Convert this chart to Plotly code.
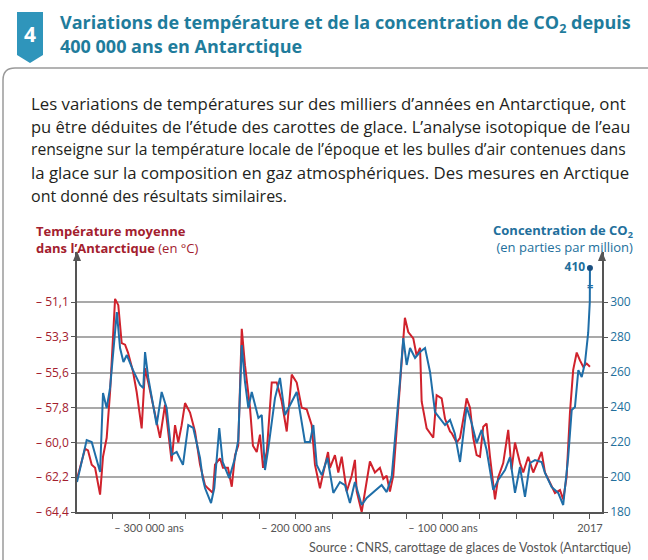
import plotly.graph_objects as go

# ---------------- data ----------------
temp_years = [-349000, -343500, -341500, -339000, -336700, -333300, -331300, -328800, -326500, -323100,
              -320900, -318600, -316300, -314300, -310900, -308400, -305000, -302700, -300500, -298200,
              -294800, -292500, -289100, -286900, -284600, -282300, -280100, -277800, -275500, -272100,
              -268700, -265300, -261900, -259900, -256500, -255100, -251700, -249700, -246300, -243700,
              -241500, -239300, -236900, -234700, -231300, -229300, -226700, -224500, -222400, -219900,
              -216500, -213100, -209700, -206300, -202900, -199500, -196100, -192700, -189300, -187100,
              -183700, -181400, -178200, -176900, -173500, -171200, -168900, -165500, -162100, -159900,
              -158700, -155300, -151900, -149700, -146300, -142900, -140600, -138300, -136100, -133800,
              -129300, -125900, -123600, -120200, -117900, -115600, -114500, -111100, -106600, -104300,
              -100900, -98600, -95200, -94100, -90700, -88400, -85000, -83900, -81600, -79400,
              -77100, -74800, -72600, -70300, -68000, -64600, -62400, -59000, -55600, -53300,
              -51000, -47600, -45400, -42000, -38600, -32900, -30600, -27200, -23800, -20400,
              -18200, -15900, -13600, -11400, -9000, -6800, -4600, -2200, 0]
temperature = [-62.3, -60.4, -60.5, -61.4, -61.6, -63.3, -60.9, -59.7, -56.8, -50.9,
               -51.3, -53.7, -53.8, -54.3, -55.5, -56.8, -59.1, -55.3, -56.2, -57.2,
               -58.9, -59.7, -57.6, -59.3, -61.2, -58.9, -60.0, -58.9, -57.5, -58.1,
               -59.3, -61.4, -62.7, -62.9, -63.2, -61.4, -61.0, -61.6, -61.6, -62.8,
               -60.8, -60.2, -52.8, -55.1, -57.8, -60.2, -60.6, -59.5, -61.6, -60.6,
               -56.2, -56.2, -57.4, -59.3, -55.7, -56.2, -57.8, -57.9, -58.9, -61.4,
               -62.9, -61.9, -60.6, -61.6, -60.8, -61.9, -60.9, -63.1, -62.1, -61.1,
               -63.1, -64.4, -62.3, -61.2, -61.9, -61.6, -62.3, -62.1, -63.1, -62.1,
               -56.4, -52.1, -53.0, -53.4, -54.5, -54.0, -57.4, -59.1, -59.7, -57.0,
               -57.2, -58.5, -59.3, -59.4, -60.0, -59.7, -57.9, -57.2, -57.8, -59.7,
               -60.8, -60.9, -59.0, -58.8, -60.9, -63.6, -62.2, -61.3, -59.2, -61.7,
               -60.0, -61.3, -61.9, -60.9, -61.9, -60.6, -61.9, -62.6, -63.2, -63.0,
               -63.6, -62.2, -58.1, -55.4, -54.3, -54.8, -55.2, -55.0, -55.2]

co2_years = [-349000, -342400, -339000, -335600, -333300, -331300, -328800, -326500, -321900, -319700,
             -317400, -315100, -310900, -306100, -303900, -302700, -300500, -294800, -291400, -288000,
             -284600, -281200, -276900, -273300, -269900, -265300, -263500, -261900, -257800, -255600,
             -252200, -249900, -245400, -241500, -239300, -236900, -234700, -232400, -230100, -225600,
             -223300, -221100, -218800, -214300, -210900, -207500, -202900, -199500, -193900, -190500,
             -188200, -185900, -182500, -178600, -174600, -170100, -166700, -163300, -159900, -155300,
             -151900, -147400, -141700, -138300, -134900, -129300, -127000, -124700, -122400, -119000,
             -115600, -112200, -108800, -105400, -102000, -98600, -95200, -92000, -88400, -83900,
             -80500, -77100, -73700, -70300, -65800, -62400, -57800, -54400, -51000, -47600,
             -44200, -40800, -37400, -32900, -30600, -26100, -21600, -18200, -14800, -12400,
             -10200, -7900, -5600, -3400, -1200, -100, 0]
co2 = [197.1, 221.1, 220.0, 209.7, 202.9, 248.0, 239.4, 250.9, 294.3, 273.7,
       265.7, 269.7, 261.1, 252.6, 250.9, 271.4, 256.6, 229.7, 248.6, 239.4,
       212.6, 214.3, 206.9, 229.7, 228.0, 210.9, 199.4, 193.7, 185.1, 193.7,
       228.0, 208.6, 199.4, 210.9, 221.1, 275.4, 254.3, 239.4, 248.6, 233.7,
       235.4, 204.0, 216.6, 245.1, 256.6, 235.4, 242.9, 248.6, 220.0, 220.0,
       229.7, 206.9, 201.1, 210.9, 190.9, 197.1, 195.4, 185.1, 197.1, 184.0,
       188.0, 191.4, 195.4, 191.4, 200.0, 254.3, 279.4, 264.0, 273.7, 268.0,
       271.4, 273.7, 260.0, 237.1, 233.7, 229.7, 232.6, 225.0, 208.6, 240.0,
       230.9, 219.4, 226.9, 215.4, 192.6, 198.3, 204.0, 211.4, 190.9, 205.7,
       188.6, 208.0, 209.7, 208.6, 202.3, 194.3, 190.9, 184.0, 211.4, 238.3,
       240.0, 261.1, 257.1, 265.1, 282.3, 300.0, 410.0]

temp_ticks = [-64.4, -62.2, -60.0, -57.8, -55.6, -53.3, -51.1]
temp_tick_labels = ["– 64,4", "– 62,2", "– 60,0", "– 57,8", "– 55,6", "– 53,3", "– 51,1"]
co2_ticks = [180, 200, 220, 240, 260, 280, 300]
co2_tick_labels = ["180", "200", "220", "240", "260", "280", "300"]
x_ticks = [-300000, -200000, -100000, 0]
x_tick_labels = ["– 300 000 ans", "– 200 000 ans", "– 100 000 ans", "2017"]

# ---------------- geometry helpers ----------------
W, H = 648, 560
PL, PR, PT, PB = 77, 602, 252, 512

def px(x):
    return (x - PL) / (PR - PL)

def py(y):
    return (PB - y) / (PB - PT)

RED = "#d0222c"
BLUE = "#1f6ea8"
RED_TXT = "#a3202e"
BLUE_TXT = "#226f9c"
TEAL = "#1f7c9c"
BADGE = "#2f95bb"
AX = "#555555"

# broken CO2 axis above 300 ppm
BREAK_AT = 300
BREAK_K = 0.176
co2_display = [v if v <= BREAK_AT else BREAK_AT + (v - BREAK_AT) * BREAK_K for v in co2]

fig = go.Figure()
fig.add_trace(go.Scatter(x=co2_years, y=co2_display, customdata=co2, mode="lines",
                         line=dict(color=BLUE, width=2), yaxis="y2",
                         hovertemplate="%{x}: %{customdata} ppm<extra></extra>"))
fig.add_trace(go.Scatter(x=temp_years, y=temperature, mode="lines",
                         line=dict(color=RED, width=2), yaxis="y"))
# last CO2 value marker (410 ppm)
fig.add_trace(go.Scatter(x=[co2_years[-1]], y=[co2_display[-1]], mode="markers+text",
                         marker=dict(color="#1a4f80", size=6), yaxis="y2",
                         text=["<b>%d</b>" % co2[-1]], textposition="middle left",
                         textfont=dict(color=BLUE_TXT, size=12, family="Open Sans")))

brk = (BREAK_AT + co2_display[-1]) / 2
fig.add_annotation(x=co2_years[-1], y=brk, xref="x", yref="y2", text="<b>=</b>",
                   showarrow=False, font=dict(color=BLUE, size=11))

fig.update_layout(
    width=W, height=H,
    margin=dict(l=PL, r=W - PR, t=PT, b=H - PB, autoexpand=False),
    paper_bgcolor="white", plot_bgcolor="white",
    showlegend=False,
    font=dict(family="Open Sans, sans-serif"),
    xaxis=dict(range=[-349000, 8200], tickvals=x_ticks, ticktext=x_tick_labels,
               showgrid=False, zeroline=False, showline=True, linecolor=AX, linewidth=1.5,
               ticks="outside", ticklen=5, tickcolor=AX, tickwidth=1, automargin=False,
               minor=dict(dtick=25000, tick0=0, ticks="outside", ticklen=5, tickcolor=AX, showgrid=False),
               tickfont=dict(size=11, color="#555", family="Lato")),
    yaxis=dict(range=[-64.4, -64.4 + (PB - PT) * 2.2167 / 35], tickvals=temp_ticks, ticktext=temp_tick_labels,
               showgrid=True, gridcolor="#a9a9a9", gridwidth=2, zeroline=False,
               showline=True, linecolor=AX, linewidth=1.5, automargin=False,
               ticks="outside", ticklen=4, tickcolor=AX,
               tickfont=dict(size=12, color=RED_TXT, family="Open Sans")),
    yaxis2=dict(range=[180, 180 + (PB - PT) * 20 / 35], tickvals=co2_ticks, ticktext=co2_tick_labels,
                overlaying="y", side="right", showgrid=False, zeroline=False,
                showline=True, linecolor=AX, linewidth=1.5, automargin=False,
                ticks="outside", ticklen=4, tickcolor=AX,
                tickfont=dict(size=12, color=BLUE_TXT, family="Open Sans")),
)

# axis arrowheads (small triangles on top of both vertical axes)
for xa in (PL, PR):
    fig.add_shape(type="path", xref="paper", yref="paper",
                  path="M %f %f L %f %f L %f %f Z" % (px(xa - 4), py(PT + 9), px(xa), py(PT - 1), px(xa + 4), py(PT + 9)),
                  fillcolor=AX, line=dict(width=0))

# frame box and badge
fig.add_shape(type="path", xref="paper", yref="paper",
              path="M %f %f L %f %f Q %f %f %f %f L %f %f" % (
                  px(3), py(570), px(3), py(80), px(3), py(68), px(15), py(68), px(660), py(68)),
              line=dict(color="#9a9a9a", width=1.5))
fig.add_shape(type="path", xref="paper", yref="paper",
              path="M %f %f L %f %f L %f %f L %f %f L %f %f Z" % (
                  px(17), py(12), px(43), py(12), px(43), py(55), px(30), py(63), px(17), py(55)),
              fillcolor=BADGE, line=dict(width=0))
fig.add_annotation(x=px(30), y=py(34), xref="paper", yref="paper", text="<b>4</b>", showarrow=False,
                   font=dict(color="white", size=21, family="Open Sans"), xanchor="center", yanchor="middle")

# title
title_lines = ["Variations de température et de la concentration de CO<sub>2</sub> depuis",
               "400 000 ans en Antarctique"]
for i, t in enumerate(title_lines):
    fig.add_annotation(x=px(58), y=py(23 + i * 23), xref="paper", yref="paper", text="<b>%s</b>" % t,
                       showarrow=False, xanchor="left", yanchor="middle",
                       font=dict(color=TEAL, size=18, family="Open Sans"))

# paragraph (slightly narrower size on the longest line, like the justified original)
para = ["Les variations de températures sur des milliers d’années en Antarctique, ont",
        "pu être déduites de l’étude des carottes de glace. L’analyse isotopique de l’eau",
        "renseigne sur la température locale de l’époque et les bulles d’air contenues dans",
        "la glace sur la composition en gaz atmosphériques. Des mesures en Arctique",
        "ont donné des résultats similaires."]
para_sizes = [16.8, 16.5, 15.7, 16.8, 16.0]
for i, t in enumerate(para):
    fig.add_annotation(x=px(29), y=py(103 + i * 23.2), xref="paper", yref="paper", text=t,
                       showarrow=False, xanchor="left", yanchor="middle",
                       font=dict(color="#231f20", size=para_sizes[i], family="Open Sans"))

# axis titles (two lines each, in a single text block)
fig.add_annotation(x=px(34), y=py(239), xref="paper", yref="paper",
                   text="<b>Température moyenne</b><br><b>dans l’Antarctique</b> (en °C)",
                   showarrow=False, xanchor="left", yanchor="middle", align="left",
                   font=dict(color=RED_TXT, size=13, family="Open Sans"))
fig.add_annotation(x=px(635), y=py(238.5), xref="paper", yref="paper",
                   text="<b>Concentration de CO<sub>2</sub></b><br>(en parties par million)",
                   showarrow=False, xanchor="right", yanchor="middle", align="right",
                   font=dict(color=BLUE_TXT, size=13, family="Open Sans"))

# source
fig.add_annotation(x=px(633), y=py(547), xref="paper", yref="paper",
                   text="Source : CNRS, carottage de glaces de Vostok (Antarctique)",
                   showarrow=False, xanchor="right", yanchor="middle", font=dict(color="#555", size=12.5, family="Lato"))

fig.write_html("out.html", config={"displayModeBar": False},
               post_script="document.body.style.margin='0';document.body.style.overflow='hidden';")
